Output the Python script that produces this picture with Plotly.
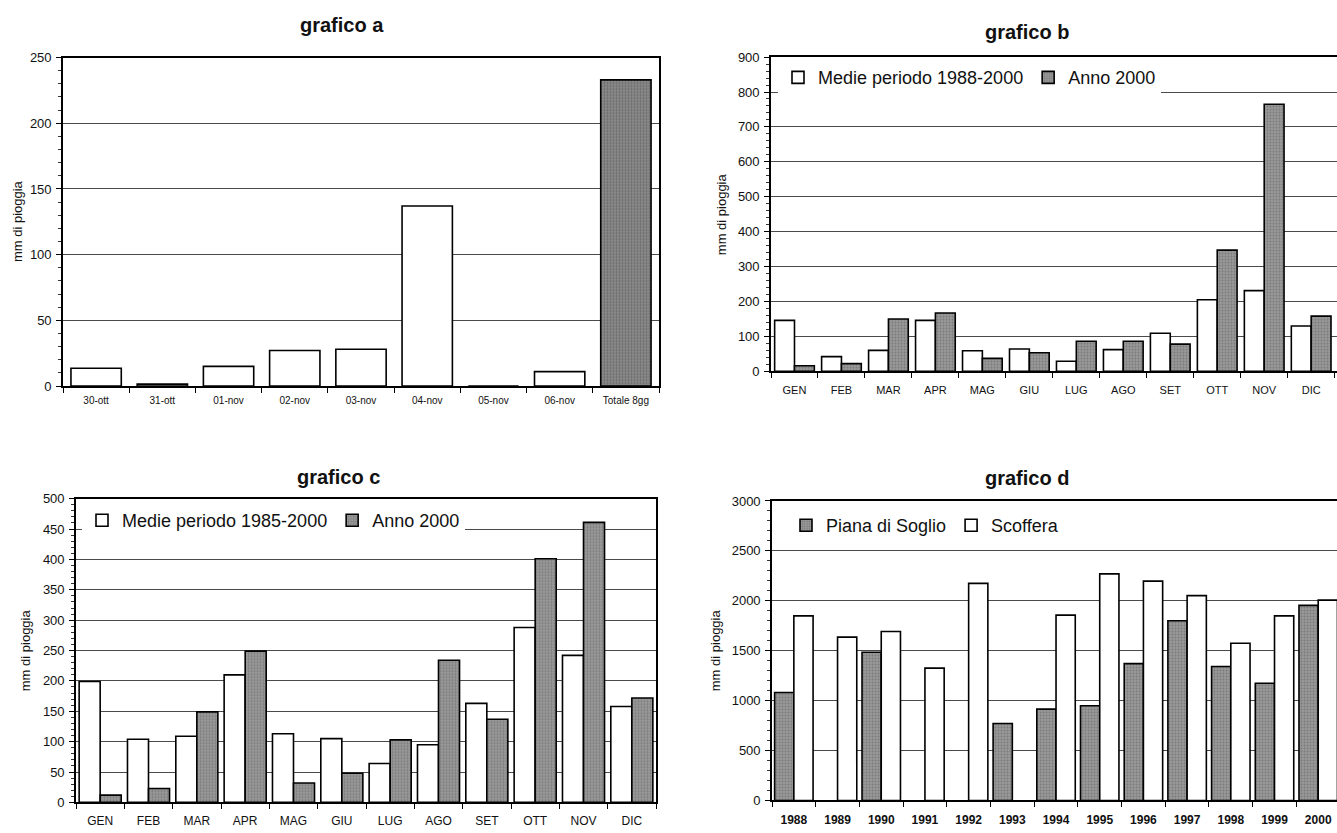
import plotly.graph_objects as go

# grafico a: daily rainfall 30 Oct - 6 Nov and the 8-day total
giorni = ["30-ott", "31-ott", "01-nov", "02-nov", "03-nov", "04-nov", "05-nov", "06-nov", "Totale 8gg"]
pioggia_giorni = [13.5, 1.5, 15, 27, 28, 137, 0, 11]
totale_8gg = 233

# grafico b / c: monthly rainfall, long-term mean vs year 2000
mesi = ["GEN", "FEB", "MAR", "APR", "MAG", "GIU", "LUG", "AGO", "SET", "OTT", "NOV", "DIC"]
b_medie = [146, 42, 60, 146, 59, 64, 29, 62, 109, 205, 231, 130]
b_anno2000 = [16, 22, 150, 167, 37, 53, 86, 86, 78, 347, 765, 158]
c_medie = [199, 104, 109, 210, 113, 105, 64, 95, 163, 288, 242, 158]
c_anno2000 = [12, 23, 149, 249, 32, 48, 103, 234, 137, 401, 461, 172]

# grafico d: yearly totals at two stations
anni = ["1988", "1989", "1990", "1991", "1992", "1993", "1994",
        "1995", "1996", "1997", "1998", "1999", "2000"]
piana_di_soglio = [1082, None, 1485, None, None, 770, 915, 948, 1370, 1800, 1341, 1174, 1954]
scoffera = [1849, 1636, 1692, 1325, 2174, None, 1856, 2269, 2197, 2052, 1574, 1849, 2007]

W, H = 1337, 833
FONT = "Liberation Sans, Arial, sans-serif"
GRID = "#4a4a4a"
GRAY = "#8a8a8a"


def px_x(x):
    return x / W


def px_y(y):
    return 1 - y / H


def gray_pattern():
    return dict(shape=".", size=3, solidity=0.35, fgcolor="#5a5a5a", bgcolor="#999999")


fig = go.Figure()

# --- grafico a -------------------------------------------------------------
valori_a = pioggia_giorni + [totale_8gg]
fig.add_trace(go.Bar(
    x=giorni, y=valori_a, width=0.76,
    marker=dict(
        color=["white"] * len(pioggia_giorni) + [GRAY],
        line=dict(color="black", width=1.6),
        pattern=dict(shape=[""] * len(pioggia_giorni) + ["."], size=3, solidity=0.35,
                     fgcolor="#5a5a5a", bgcolor="#999999"),
    ),
    showlegend=False, xaxis="x", yaxis="y",
))


def grouped(xs, first, second, names, colors, ax, legend, gw):
    half = gw / 2
    for vals, name, col, off in ((first, names[0], colors[0], -half), (second, names[1], colors[1], 0)):
        marker = dict(color="white", line=dict(color="black", width=1.6))
        if col == "gray":
            marker = dict(color=GRAY, line=dict(color="black", width=1.6), pattern=gray_pattern())
        fig.add_trace(go.Bar(
            x=xs, y=vals, name=name, width=half, offset=off, marker=marker,
            xaxis="x" + ax, yaxis="y" + ax, legend=legend,
        ))


grouped(mesi, b_medie, b_anno2000, ["Medie periodo 1988-2000", "Anno 2000"],
        ["white", "gray"], "2", "legend", 0.845)
grouped(mesi, c_medie, c_anno2000, ["Medie periodo 1985-2000", "Anno 2000"],
        ["white", "gray"], "3", "legend2", 0.87)
grouped(anni, piana_di_soglio, scoffera, ["Piana di Soglio", "Scoffera"],
        ["gray", "white"], "4", "legend3", 0.88)


def xaxis_cfg(dom, rng, size, standoff, anchor, bold=False):
    return dict(
        domain=dom, type="category", range=rng, showgrid=False, zeroline=False,
        anchor=anchor,
        showline=True, linecolor="black", linewidth=1.6, mirror=True,
        ticks="outside", tickson="boundaries", ticklen=5, tickcolor="black", tickwidth=1.2,
        ticklabelstandoff=standoff,
        tickfont=dict(family=FONT, size=size, color="#111",
                      weight="bold" if bold else "normal"),
    )


def yaxis_cfg(dom, top, dtick, minor, mirror, anchor):
    return dict(
        domain=dom, range=[0, top], dtick=dtick, anchor=anchor,
        showgrid=True, gridcolor=GRID, gridwidth=1.4, zeroline=False,
        showline=True, linecolor="black", linewidth=1.6, mirror=mirror,
        ticks="outside", ticklen=5, tickcolor="black", tickwidth=1.2,
        ticklabelstandoff=2,
        minor=dict(dtick=minor, ticks="outside", ticklen=3, tickcolor="#333", showgrid=False),
        tickfont=dict(family=FONT, size=13, color="#111"),
    )


fig.update_layout(
    width=W, height=H, margin=dict(l=0, r=0, t=0, b=0),
    paper_bgcolor="white", plot_bgcolor="white",
    barmode="group",
    font=dict(family=FONT, color="#111"),
    xaxis=xaxis_cfg([px_x(63), px_x(659)], [-0.5, 8.5], 10, 4, "y"),
    yaxis=yaxis_cfg([px_y(386), px_y(51.5)], 250, 50, 10, True, "x"),
    xaxis2=xaxis_cfg([px_x(771), 1.0], [-0.5, 11.55], 11, 8, "y2"),
    yaxis2=yaxis_cfg([px_y(371), px_y(51)], 900, 100, 20, False, "x2"),
    xaxis3=xaxis_cfg([px_x(76), px_x(656)], [-0.5, 11.5], 12, 6, "y3"),
    yaxis3=yaxis_cfg([px_y(810), px_y(500.7)], 500, 50, 10, True, "x3"),
    xaxis4=xaxis_cfg([px_x(772), 1.0], [-0.5, 12.43], 12, 7, "y4", bold=True),
    yaxis4=yaxis_cfg([px_y(808), px_y(503)], 3000, 500, 100, False, "x4"),
)

legend_style = dict(orientation="h", bgcolor="white", borderwidth=0,
                    font=dict(family=FONT, size=18, color="#111"),
                    xanchor="left", yanchor="middle", itemwidth=30, traceorder="normal",
                    tracegroupgap=0)
fig.update_layout(
    legend=dict(x=px_x(778), y=px_y(72), **legend_style),
    legend2=dict(x=px_x(82), y=px_y(523), **legend_style),
    legend3=dict(x=px_x(786), y=px_y(528), **legend_style),
)

titoli = [("grafico a", 342, 18), ("grafico b", 1027, 25),
          ("grafico c", 339, 479), ("grafico d", 1027, 480)]
for testo, x, y in titoli:
    fig.add_annotation(text=testo, x=px_x(x), y=px_y(y), xref="paper", yref="paper",
                       showarrow=False, xanchor="center", yanchor="middle",
                       font=dict(family=FONT, size=20, color="#111", weight="bold"))

assi_y = [(17, 218), (721, 211), (25, 655), (715, 655)]
for x, y in assi_y:
    fig.add_annotation(text="mm di pioggia", x=px_x(x), y=px_y(y), xref="paper", yref="paper",
                       showarrow=False, textangle=-90, xanchor="center", yanchor="middle",
                       font=dict(family=FONT, size=13, color="#111"))

fig.write_html("out.html")
